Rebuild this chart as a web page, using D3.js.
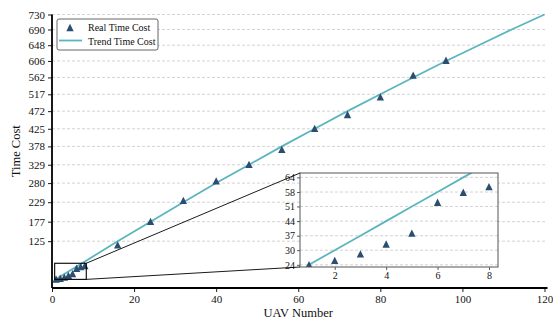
<!DOCTYPE html>
<html lang="en">

<head>
  <meta charset="UTF-8">
  <script src="https://d3js.org/d3.v7.min.js"></script>
  <title>Time Cost vs UAV Number</title>
  <style>
    body { margin: 0; background: #fff; }
    text { font-family: "Liberation Serif", "Times New Roman", serif; fill: #111; }
  </style>
</head>

<body>
  <svg width="553" height="322"></svg>

  <script>
    const REAL_COLOR = '#2b4d70'
    const TREND_COLOR = '#5cb5be'
    const GRID_COLOR = '#c8c8c8'

    // measured points
    const realX = [1, 2, 3, 4, 5, 6, 7, 8, 16, 24, 32, 40, 48, 56, 64, 72, 80, 88, 96]
    const realY = [24.1, 26, 29, 33.5, 38.5, 52.6, 57.2, 59.8, 115, 178, 234, 286, 330, 370, 426, 463, 510, 568, 608]

    // fitted trend
    const trendX = [1, 2, 3, 4, 5, 6, 7, 8, 16, 24, 32, 40, 48, 56, 64, 72, 80, 88, 96, 104, 112, 120]
    const trendY = [24, 30.7, 37.3, 44, 50.7, 57.3, 64, 70.6, 125, 177, 229, 280, 329, 378, 425, 472, 517, 562, 606, 648, 690, 730]

    const xTicks = [0, 20, 40, 60, 80, 100, 120]
    const insetXTicks = [2, 4, 6, 8]
    const insetYLabels = ['24', '30', '37', '44', '51', '58', '64']

    const real = realX.map((x, i) => ({ x, y: realY[i] }))
    const trend = trendX.map((x, i) => ({ x, y: trendY[i] }))
    const yTicks = trend.filter(d => d.x >= 16).map(d => d.y)
    const insetYTicks = trend.filter(d => d.x <= 7).map(d => d.y)

    const svg = d3.select('svg')

    const x = d3.scaleLinear().domain([0, 120]).range([52, 544.5])
    const y = d3.scaleLinear().domain([0, 730]).range([288, 14.5])

    const zoomX = [0.65, 8.35], zoomY = [23, 66]
    const ix = d3.scaleLinear().domain(zoomX).range([300, 498])
    const iy = d3.scaleLinear().domain(zoomY).range([267, 173])

    const tri = {
      draw(ctx, size) {
        const h = Math.sqrt(size) / 2
        ctx.moveTo(0, -h)
        ctx.lineTo(h, h)
        ctx.lineTo(-h, h)
        ctx.closePath()
      }
    }
    const marker = d3.symbol().type(tri).size(54)

    // main grid
    svg.append('g')
      .selectAll('line')
      .data(yTicks)
      .join('line')
      .attr('x1', x(0)).attr('x2', x(120) + 2)
      .attr('y1', d => y(d)).attr('y2', d => y(d))
      .attr('stroke', GRID_COLOR).attr('stroke-width', 0.8)
      .attr('stroke-dasharray', '3,2')

    // main axes
    const gx = svg.append('g')
      .attr('transform', `translate(0,${y(0)})`)
      .call(d3.axisBottom(x).tickValues(xTicks).tickSize(4).tickPadding(3))
    const gy = svg.append('g')
      .attr('transform', `translate(${x(0)},0)`)
      .call(d3.axisLeft(y).tickValues(yTicks).tickFormat(d3.format('d')).tickSize(4).tickPadding(3))

    for (const g of [gx, gy]) {
      g.select('.domain').attr('stroke', '#000').attr('stroke-width', 1.8)
      g.selectAll('.tick line').attr('stroke', '#000').attr('stroke-width', 0.9)
      g.selectAll('.tick text').style('font-size', '11px').style('font-family', '"Liberation Serif", serif').attr('fill', '#111')
    }
    gx.select('.domain').attr('d', `M${x(0)},0H${x(120) + 3}`)
    gy.select('.domain').attr('d', `M0,${y(0)}V${y(730)}`)

    svg.append('text')
      .attr('x', (x(0) + x(120)) / 2).attr('y', 317)
      .attr('text-anchor', 'middle')
      .style('font-size', '12.5px')
      .text('UAV Number')

    svg.append('text')
      .attr('transform', `translate(20,${(y(0) + y(730)) / 2}) rotate(-90)`)
      .attr('text-anchor', 'middle')
      .style('font-size', '12.5px')
      .text('Time Cost')

    // main marks
    const line = (sx, sy) => d3.line().x(d => sx(d.x)).y(d => sy(d.y))

    svg.append('path')
      .datum(trend)
      .attr('d', line(x, y))
      .attr('fill', 'none')
      .attr('stroke', TREND_COLOR).attr('stroke-width', 1.8)

    svg.append('g')
      .selectAll('path')
      .data(real)
      .join('path')
      .attr('transform', d => `translate(${x(d.x)},${y(d.y)})`)
      .attr('d', marker)
      .attr('fill', REAL_COLOR)

    // zoom box on main plot
    svg.append('rect')
      .attr('x', x(zoomX[0])).attr('y', y(zoomY[1]))
      .attr('width', x(zoomX[1]) - x(zoomX[0]))
      .attr('height', y(zoomY[0]) - y(zoomY[1]))
      .attr('fill', 'none').attr('stroke', '#000').attr('stroke-width', 1.1)

    // inset
    const inset = svg.append('g')
    inset.append('rect')
      .attr('x', ix(zoomX[0])).attr('y', iy(zoomY[1]))
      .attr('width', ix(zoomX[1]) - ix(zoomX[0]))
      .attr('height', iy(zoomY[0]) - iy(zoomY[1]))
      .attr('fill', '#fff')

    inset.append('g')
      .selectAll('line')
      .data(insetYTicks)
      .join('line')
      .attr('x1', ix(zoomX[0])).attr('x2', ix(zoomX[1]))
      .attr('y1', d => iy(d)).attr('y2', d => iy(d))
      .attr('stroke', GRID_COLOR).attr('stroke-width', 0.8)
      .attr('stroke-dasharray', '3,2')

    const clip = svg.append('clipPath').attr('id', 'inset-clip')
    clip.append('rect')
      .attr('x', ix(zoomX[0])).attr('y', iy(zoomY[1]))
      .attr('width', ix(zoomX[1]) - ix(zoomX[0]))
      .attr('height', iy(zoomY[0]) - iy(zoomY[1]))

    const insetPlot = inset.append('g').attr('clip-path', 'url(#inset-clip)')
    insetPlot.append('path')
      .datum(trend.filter(d => d.x <= 16))
      .attr('d', line(ix, iy))
      .attr('fill', 'none')
      .attr('stroke', TREND_COLOR).attr('stroke-width', 1.8)

    insetPlot.append('g')
      .selectAll('path')
      .data(real.filter(d => d.x <= 8))
      .join('path')
      .attr('transform', d => `translate(${ix(d.x)},${iy(d.y)})`)
      .attr('d', marker)
      .attr('fill', REAL_COLOR)

    const igx = inset.append('g')
      .attr('transform', `translate(0,${iy(zoomY[0])})`)
      .call(d3.axisBottom(ix).tickValues(insetXTicks).tickSize(3).tickPadding(2))
    const igy = inset.append('g')
      .attr('transform', `translate(${ix(zoomX[0])},0)`)
      .call(d3.axisLeft(iy).tickValues(insetYTicks).tickFormat((d, i) => insetYLabels[i]).tickSize(3).tickPadding(2))
    for (const g of [igx, igy]) {
      g.select('.domain').remove()
      g.selectAll('.tick line').attr('stroke', '#333').attr('stroke-width', 0.8)
      g.selectAll('.tick text').style('font-size', '10px').style('font-family', '"Liberation Serif", serif').attr('fill', '#111')
    }

    inset.append('rect')
      .attr('x', ix(zoomX[0])).attr('y', iy(zoomY[1]))
      .attr('width', ix(zoomX[1]) - ix(zoomX[0]))
      .attr('height', iy(zoomY[0]) - iy(zoomY[1]))
      .attr('fill', 'none').attr('stroke', '#555').attr('stroke-width', 1)

    // connectors from zoom box to inset
    svg.append('g')
      .selectAll('line')
      .data([[zoomY[1], zoomY[1]], [zoomY[0], zoomY[0]]])
      .join('line')
      .attr('x1', x(zoomX[1])).attr('y1', d => y(d[0]))
      .attr('x2', ix(zoomX[0])).attr('y2', d => iy(d[1]))
      .attr('stroke', '#000').attr('stroke-width', 0.9)

    // legend
    const legend = svg.append('g')
    legend.append('rect')
      .attr('x', 57).attr('y', 19).attr('width', 101).attr('height', 31).attr('rx', 2)
      .attr('fill', '#fff').attr('stroke', '#555').attr('stroke-width', 0.9)
    legend.append('path')
      .attr('transform', 'translate(70,27.5)')
      .attr('d', marker)
      .attr('fill', REAL_COLOR)
    legend.append('line')
      .attr('x1', 59).attr('x2', 82).attr('y1', 40.5).attr('y2', 40.5)
      .attr('stroke', TREND_COLOR).attr('stroke-width', 1.8)
    legend.selectAll('text.lab')
      .data(['Real Time Cost', 'Trend Time Cost'])
      .join('text')
      .attr('class', 'lab')
      .attr('x', 88).attr('y', (d, i) => 31 + i * 13.5)
      .style('font-size', '10px')
      .text(d => d)
  </script>
</body>

</html>
